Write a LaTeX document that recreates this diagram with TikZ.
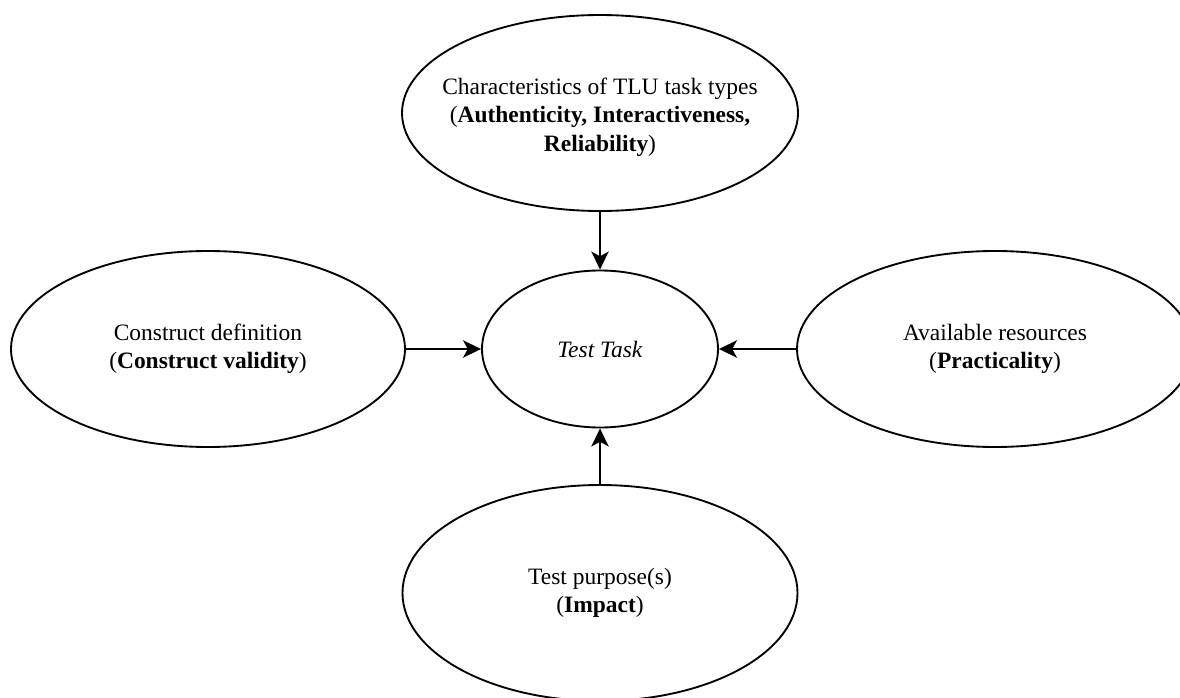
\documentclass[tikz,border=0pt]{standalone}
\usepackage{fontspec}
\setmainfont{Liberation Serif}
\usetikzlibrary{shapes.geometric,arrows.meta}

\begin{document}
\begin{tikzpicture}[x=0.75pt,y=-0.75pt,
  oval/.style={draw=black, line width=1.4pt, ellipse, inner sep=0pt, fill=white},
  lbl/.style={align=center, inner sep=0pt, font=\fontsize{17.6}{21.3}\selectfont},
  flow/.style={line width=1.4pt, -{Stealth[length=13.5pt, width=13pt, inset=3.5pt]}}]

  % canvas
  \useasboundingbox (0,0) rectangle (1180,698);
  \clip (0,0) rectangle (1180,698);
  \fill[white] (0,0) rectangle (1180,698);

  % ovals
  \node[oval, minimum width={396*0.75pt}, minimum height={196*0.75pt}] (tlu) at (600,113) {};
  \node[oval, minimum width={394*0.75pt}, minimum height={196*0.75pt}] (cons) at (208,349) {};
  \node[oval, minimum width={236*0.75pt}, minimum height={157*0.75pt}] (task) at (600,349) {};
  \node[oval, minimum width={396*0.75pt}, minimum height={196*0.75pt}] (res) at (995,349) {};
  \node[oval, minimum width={395*0.75pt}, minimum height={216*0.75pt}] (purp) at (600,593) {};

  % texts
  \node[lbl] (tlutext) at ([yshift=-3pt]tlu.center) {Characteristics of TLU task types\\
    (\textbf{Authenticity, Interactiveness,}\\ \textbf{Reliability})};
  \node[lbl] (constext) at (cons) {Construct definition\\(\textbf{Construct validity})};
  \node[lbl] (tasktext) at (task) {\textit{Test Task}};
  \node[lbl] (restext) at (res) {Available resources\\(\textbf{Practicality})};
  \node[lbl] (purptext) at (purp) {Test purpose(s)\\(\textbf{Impact})};

  % connectors
  \draw[flow] (tlu.south) -- (task.north);
  \draw[flow] (cons.east) -- (task.west);
  \draw[flow] (res.west) -- (task.east);
  \draw[flow] (purp.north) -- (task.south);
\end{tikzpicture}
\end{document}
